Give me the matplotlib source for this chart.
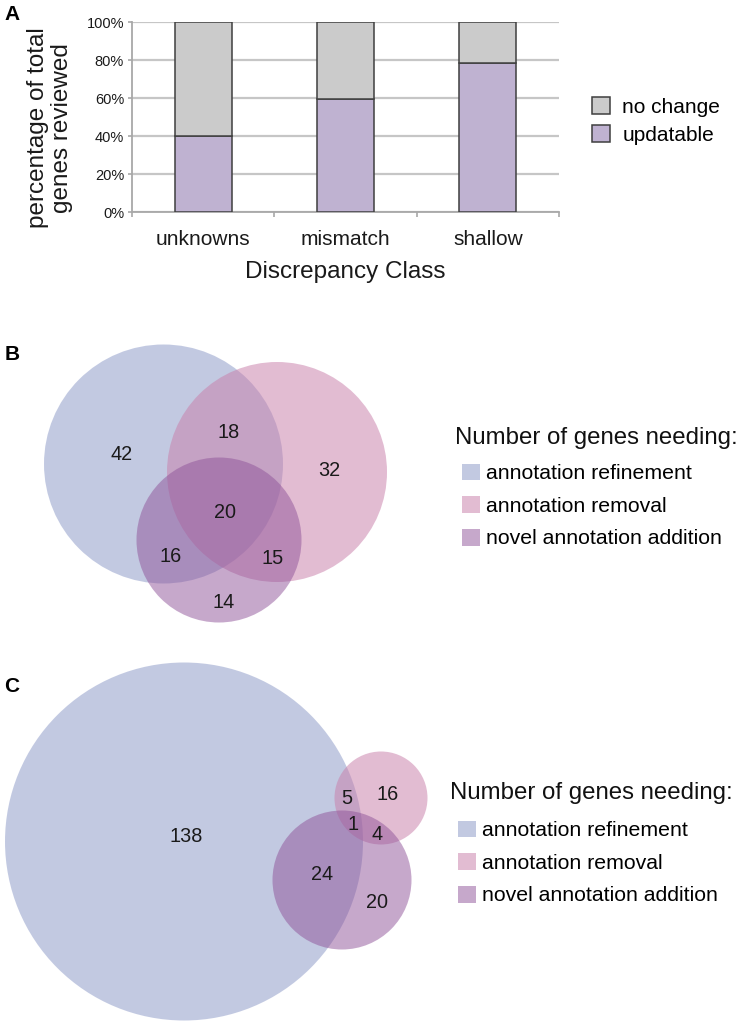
import matplotlib
matplotlib.use("Agg")
import matplotlib.pyplot as plt
from matplotlib.patches import Circle, Patch

plt.rcParams['font.family'] = ['Liberation Sans', 'DejaVu Sans']

# ---------------- data ----------------
categories = ['unknowns', 'mismatch', 'shallow']
updatable = [40.0, 59.5, 78.6]
no_change = [60.0, 40.5, 21.4]
y_ticks = [0, 20, 40, 60, 80, 100]
y_tick_labels = ['0%', '20%', '40%', '60%', '80%', '100%']

set_names = ['annotation refinement', 'annotation removal', 'novel annotation addition']
region_keys = ['100', '010', '001', '110', '101', '011', '111']
counts_b = [42, 32, 14, 18, 16, 15, 20]
counts_c = [138, 16, 20, 5, 24, 4, 1]

# ---------------- layout / style ----------------
W, H = 742, 1025
DPI = 100
fig = plt.figure(figsize=(W / DPI, H / DPI), dpi=DPI)

def fxy(px, py):
    return px / W, 1 - py / H

def pt(px):
    return px * 72.0 / DPI

c_upd = '#bfb2d1'
c_noc = '#cbcbcb'
c_edge = '#3f3f3f'
c_axis = '#a8a8a8'
c_grid = '#c6c6c6'

venn_colors = ['#8795c5', '#c97faa', '#8f5399']
venn_alpha = [0.5, 0.52, 0.5]

# ---------------- Panel A ----------------
axA = fig.add_axes([132 / W, 1 - 212 / H, 427 / W, 190 / H])
x = list(range(len(categories)))
b1 = axA.bar(x, updatable, width=0.4, color=c_upd, edgecolor=c_edge, linewidth=1.1, zorder=3)
b2 = axA.bar(x, no_change, width=0.4, bottom=updatable, color=c_noc, edgecolor=c_edge,
             linewidth=1.1, zorder=3)
axA.set_xlim(-0.5, len(categories) - 0.5)
axA.set_ylim(0, 100)
axA.set_yticks(y_ticks)
axA.set_yticklabels(y_tick_labels)
axA.yaxis.grid(True, color=c_grid, linewidth=1.6, zorder=0)
axA.set_axisbelow(True)
for s in ['top', 'right']:
    axA.spines[s].set_visible(False)
for s in ['left', 'bottom']:
    axA.spines[s].set_color(c_axis)
    axA.spines[s].set_linewidth(1.3)
axA.set_xticks([i - 0.5 for i in range(len(categories) + 1)])
axA.set_xticklabels([])
axA.set_xticks(x, minor=True)
axA.set_xticklabels(categories, minor=True)
axA.tick_params(axis='x', which='major', length=pt(5), width=1.2, color=c_axis, direction='out')
axA.tick_params(axis='x', which='minor', length=0, pad=pt(18), labelsize=15, labelcolor='#1a1a1a')
axA.tick_params(axis='y', length=pt(4), width=1.2, color=c_axis, pad=pt(4), labelsize=10.5,
                labelcolor='#1a1a1a')
axA.set_xlabel('Discrepancy Class', fontsize=17.5, color='#1a1a1a')
axA.xaxis.set_label_coords(0.5, -(272 - 212) / 190)
axA.xaxis.label.set_va('center')
axA.set_ylabel('percentage of total\ngenes reviewed', fontsize=17.5, color='#1a1a1a',
               linespacing=1.1)
axA.yaxis.set_label_coords((50 - 132) / 427, (212 - 128) / 190)
axA.yaxis.label.set_va('center')

fig.legend(handles=[b2, b1], labels=['no change', 'updatable'], loc='center left',
           bbox_to_anchor=fxy(592, 121), frameon=False, fontsize=15,
           handlelength=0.86, handleheight=0.86, handletextpad=0.6, labelspacing=0.4,
           borderpad=0, borderaxespad=0)

# ---------------- Venn panels ----------------
venn_b_layout = {
    'region': (0, 330, 420, 640),
    'circles': [((163.5, 464), 119.5), ((277, 472), 110), ((219, 540), 82.5)],
    'labels': {'100': (122, 454), '010': (329, 471), '001': (224, 602), '110': (229, 432),
               '101': (171, 557), '011': (273, 558), '111': (225, 513)},
}
venn_c_layout = {
    'region': (0, 650, 440, 1025),
    'circles': [((184, 841.5), 179), ((381, 798), 46.5), ((342, 880), 69.5)],
    'labels': {'100': (186, 836), '010': (388, 795), '001': (377, 902), '110': (347, 798),
               '101': (322, 875), '011': (377, 834), '111': (353, 825)},
}

def draw_venn(layout, counts):
    x0, y0, x1, y1 = layout['region']
    ax = fig.add_axes([x0 / W, 1 - y1 / H, (x1 - x0) / W, (y1 - y0) / H])
    ax.set_xlim(x0, x1)
    ax.set_ylim(y1, y0)
    ax.axis('off')
    for (c, r), col, a in zip(layout['circles'], venn_colors, venn_alpha):
        ax.add_patch(Circle(c, r, facecolor=col, alpha=a, edgecolor='none'))
    for key, n in zip(region_keys, counts):
        lx, ly = layout['labels'][key]
        ax.text(lx, ly, str(n), ha='center', va='center', fontsize=14.3, color='#1a1a1a')
    return ax

draw_venn(venn_b_layout, counts_b)
draw_venn(venn_c_layout, counts_c)

legend_handles = [Patch(facecolor=c, alpha=a, edgecolor='none') for c, a in zip(venn_colors, venn_alpha)]

def venn_legend(title_xy, anchor_xy):
    fig.text(*fxy(*title_xy), 'Number of genes needing:', fontsize=17.3, color='#111111',
             ha='left', va='center')
    fig.legend(handles=legend_handles, labels=set_names, loc='center left',
               bbox_to_anchor=fxy(*anchor_xy), frameon=False, fontsize=15.3,
               handlelength=0.85, handleheight=0.85, handletextpad=0.3, labelspacing=0.6,
               borderpad=0, borderaxespad=0)

venn_legend((455, 438), (462, 506))
venn_legend((450, 793), (458, 863))

# panel letters
for letter, (lx, ly) in zip(['A', 'B', 'C'], [(12, 15), (12, 355), (12, 686)]):
    fig.text(*fxy(lx, ly), letter, fontsize=15, fontweight='bold', ha='center', va='center')

fig.savefig('out.png', dpi=DPI)
